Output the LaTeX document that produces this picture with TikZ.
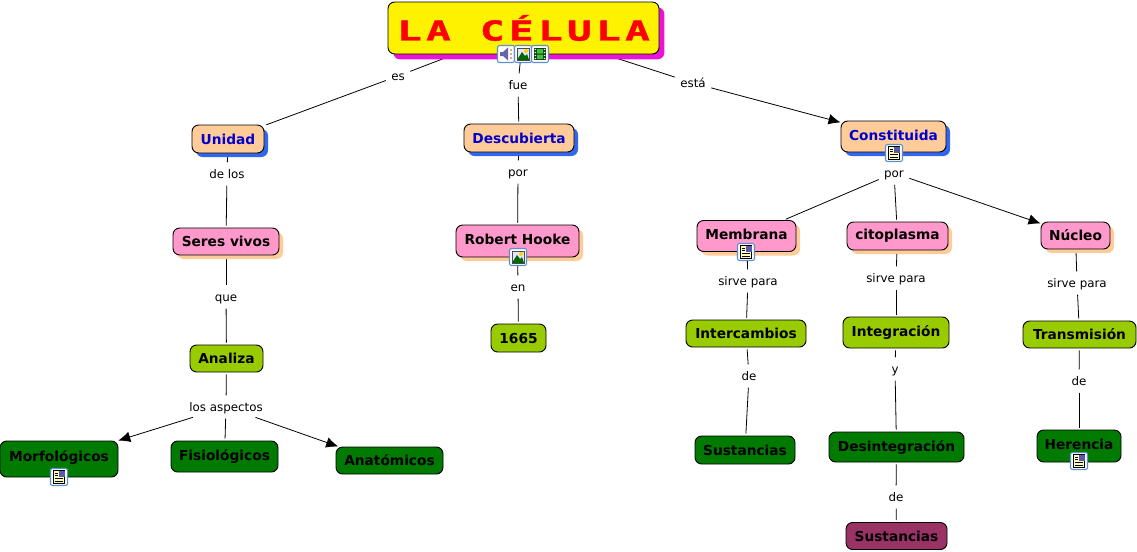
\documentclass[tikz,border=0pt]{standalone}
\usepackage{fontspec}
\setmainfont{DejaVu Sans}
\newfontfamily\titlefont[FakeStretch=1.5,LetterSpace=16,FakeBold=1.5]{DejaVu Sans Mono Bold}
\usepackage{xcolor}
\usetikzlibrary{arrows.meta,positioning,shadows,backgrounds}

\definecolor{peach}{HTML}{FFCC99}
\definecolor{pinkbox}{HTML}{FF99CC}
\definecolor{lime}{HTML}{99CC00}
\definecolor{forest}{HTML}{007A00}
\definecolor{plum}{HTML}{993366}
\definecolor{shblue}{HTML}{3366EE}
\definecolor{shmagenta}{HTML}{E815D8}
\definecolor{iconblue}{HTML}{5B8FD0}

\tikzset{
  concept/.style 2 args={draw=black, line width=0.7pt, rounded corners=5pt, inner sep=0pt,
    font=\fontsize{10.3}{12}\selectfont\bfseries, minimum width=#1*0.75pt, minimum height=#2*0.75pt},
  withicon/.style={text height=7.6pt, text depth=#1},
  withicon/.default=2.8pt,
  bluebox/.style={fill=peach, text=blue!80!black,
    drop shadow={shadow xshift=3pt, shadow yshift=-3pt, fill=shblue, opacity=1}},
  pinkcon/.style={fill=pinkbox,
    drop shadow={shadow xshift=3pt, shadow yshift=-3pt, fill=peach, opacity=1}},
  limecon/.style={fill=lime},
  greencon/.style={fill=forest},
  plumcon/.style={fill=plum},
  linktext/.style={inner sep=2.5pt, text height=7.6pt, text depth=1.6pt,
    font=\fontsize{8.9}{10}\selectfont},
  link/.style={line width=0.6pt, shorten <=1.5pt, shorten >=1.5pt},
  arrowlink/.style={line width=0.6pt, shorten <=1.5pt, -{Latex[length=9pt,width=8pt]}},
  iconframe/.style={draw=iconblue, fill=white, line width=0.8pt, rounded corners=1.5pt},
  pics/noteicon/.style={code={
    \draw[iconframe] (-8.5,-8.5) rectangle (8.5,8.5);
    \fill[yellow!25] (-5.5,-6.5) rectangle (5.5,6.5);
    \draw[line width=0.5pt] (-5.5,-6.5) rectangle (5.5,6.5);
    \fill[gray!70!blue] (0,-6.5) rectangle (5.5,-0.5);
    \draw[line width=0.5pt] (-4,-4) -- (-1,-4) (-4,-1.5) -- (-1,-1.5) (-4,1.5) -- (4,1.5) (-4,4) -- (4,4);
  }},
  pics/imageicon/.style={code={
    \draw[iconframe] (-8.5,-8.5) rectangle (8.5,8.5);
    \fill[blue!10] (-6,-6) rectangle (6,6);
    \fill[yellow!70!orange] (3,-3) circle (2);
    \fill[green!40!black] (-6,6) -- (-1,-2) -- (2,2) -- (4,0) -- (6,6) -- cycle;
    \draw[line width=0.5pt, black!70] (-6,-6) rectangle (6,6);
  }},
  pics/soundicon/.style={code={
    \draw[iconframe] (-8.5,-8.5) rectangle (8.5,8.5);
    \fill[black!55!blue!60] (-6,-2) -- (-3,-2) -- (2,-6.5) -- (2,6.5) -- (-3,2) -- (-6,2) -- cycle;
    \fill[orange!70!black] (5,-4) circle (0.8) (5,0) circle (0.8) (5,4) circle (0.8);
  }},
  pics/filmicon/.style={code={
    \draw[iconframe] (-8.5,-8.5) rectangle (8.5,8.5);
    \fill[green!25!black] (-6,-6) rectangle (6,6);
    \fill[green!45!gray] (-3,-5) rectangle (3,-0.5) (-3,0.5) rectangle (3,5);
    \foreach \iy in {-4.5,-1.5,1.5,4.5} {
      \fill[white] (-5.3,\iy-0.7) rectangle (-3.9,\iy+0.7) (3.9,\iy-0.7) rectangle (5.3,\iy+0.7);
    }
  }}
}

\begin{document}
\begin{tikzpicture}[x=0.75pt, y=-0.75pt]
\useasboundingbox (0,0) rectangle (1137,551);

% title
\node[draw=black, line width=0.7pt, rounded corners=5pt, fill=yellow, text=red, inner sep=0pt,
  minimum width=271*0.75pt, minimum height=52*0.75pt,
  font=\titlefont\fontsize{20.5}{22}\selectfont,
  drop shadow={shadow xshift=4pt, shadow yshift=-4pt, fill=shmagenta, opacity=1}]
  (celula) at (523.5,28) {LA CÉLULA\hspace{11pt}};

% concepts
\node[concept={72}{28}, bluebox] (unidad) at (228,139) {Unidad};
\node[concept={110}{28}, bluebox] (descubierta) at (519,138) {Descubierta};
\node[concept={105}{31}, bluebox, withicon=1.4pt] (constituida) at (893.5,136.5) {Constituida};

\node[concept={106}{27}, pinkcon] (seres) at (226,241.5) {Seres vivos};
\node[concept={123}{32}, pinkcon, withicon] (hooke) at (517.5,241) {Robert Hooke};
\node[concept={99}{31}, pinkcon, withicon] (membrana) at (746.5,236) {Membrana};
\node[concept={101}{28}, pinkcon] (citoplasma) at (897.5,236) {citoplasma};
\node[concept={69}{27}, pinkcon] (nucleo) at (1075.5,235.5) {Núcleo};

\node[concept={73}{27}, limecon] (analiza) at (226.5,358.5) {Analiza};
\node[concept={55}{28}, limecon] (anio) at (518.5,338) {1665};
\node[concept={120}{27}, limecon] (intercambios) at (746,333.5) {Intercambios};
\node[concept={106}{31}, limecon] (integracion) at (896,332.5) {Integración};
\node[concept={113}{27}, limecon] (transmision) at (1079.5,334.5) {Transmisión};

\node[concept={118}{36}, greencon, withicon=4pt] (morfo) at (59,459) {Morfológicos};
\node[concept={107}{31}, greencon] (fisio) at (224.5,456.5) {Fisiológicos};
\node[concept={107}{27}, greencon] (anato) at (389.5,460.5) {Anatómicos};
\node[concept={100}{28}, greencon] (sustA) at (745,450) {Sustancias};
\node[concept={135}{30}, greencon] (desint) at (896.5,447) {Desintegración};
\node[concept={84}{32}, greencon, withicon] (herencia) at (1079,446) {Herencia};
\node[concept={101}{27}, plumcon] (sustB) at (896.5,536) {Sustancias};

% linking phrases
\node[linktext] (es) at (398,76) {es};
\node[linktext] (fue) at (518,85) {fue};
\node[linktext] (esta) at (693,83) {está};
\node[linktext] (delos) at (227,174) {de los};
\node[linktext] (porB) at (518,172) {por};
\node[linktext] (porC) at (894,173) {por};
\node[linktext] (que) at (226,297) {que};
\node[linktext] (en) at (518,287) {en};
\node[linktext] (aspectos) at (226,407) {los aspectos};
\node[linktext] (sirveA) at (748,281) {sirve para};
\node[linktext] (sirveB) at (896,278) {sirve para};
\node[linktext] (sirveC) at (1077,283) {sirve para};
\node[linktext] (deA) at (749,376) {de};
\node[linktext] (yy) at (895,369) {y};
\node[linktext] (deB) at (1079,381) {de};
\node[linktext] (deC) at (896,497) {de};

\begin{scope}[on background layer]
\draw[link] (celula) -- (es);
\draw[link] (es) -- (unidad);
\draw[link] (celula) -- (fue);
\draw[link] (fue) -- (descubierta);
\draw[link] (celula) -- (esta);
\draw[arrowlink] (esta) -- (constituida);
\draw[link] (unidad) -- (delos);
\draw[link] (delos) -- (seres);
\draw[link] (seres) -- (que);
\draw[link] (que) -- (analiza);
\draw[link] (analiza) -- (aspectos);
\draw[arrowlink] (aspectos) -- (morfo);
\draw[link] (aspectos) -- (fisio);
\draw[arrowlink] (aspectos) -- ([xshift=2pt]anato.north west);
\draw[link] (descubierta) -- (porB);
\draw[link] (porB) -- (hooke);
\draw[link] (hooke) -- (en);
\draw[link] (en) -- (anio);
\draw[link] (constituida) -- (porC);
\draw[link] (porC) -- (membrana);
\draw[link] (porC) -- (citoplasma);
\draw[arrowlink] (porC) -- (nucleo);
\draw[link] (membrana) -- (sirveA);
\draw[link] (sirveA) -- (intercambios);
\draw[link] (intercambios) -- (deA);
\draw[link] (deA) -- (sustA);
\draw[link] (citoplasma) -- (sirveB);
\draw[link] (sirveB) -- (integracion);
\draw[link] (integracion) -- (yy);
\draw[link] (yy) -- (desint);
\draw[link] (desint) -- (deC);
\draw[link] (deC) -- (sustB);
\draw[link] (nucleo) -- (sirveC);
\draw[link] (sirveC) -- (transmision);
\draw[link] (transmision) -- (deB);
\draw[link] (deB) -- (herencia);
\end{scope}

% resource icons
\pic at (506,54) {soundicon};
\pic at (523,54) {imageicon};
\pic at (540,54) {filmicon};
\pic at (894,153) {noteicon};
\pic at (746,252) {noteicon};
\pic at (518,257) {imageicon};
\pic at (59,477) {noteicon};
\pic at (1079,461) {noteicon};
\end{tikzpicture}
\end{document}
